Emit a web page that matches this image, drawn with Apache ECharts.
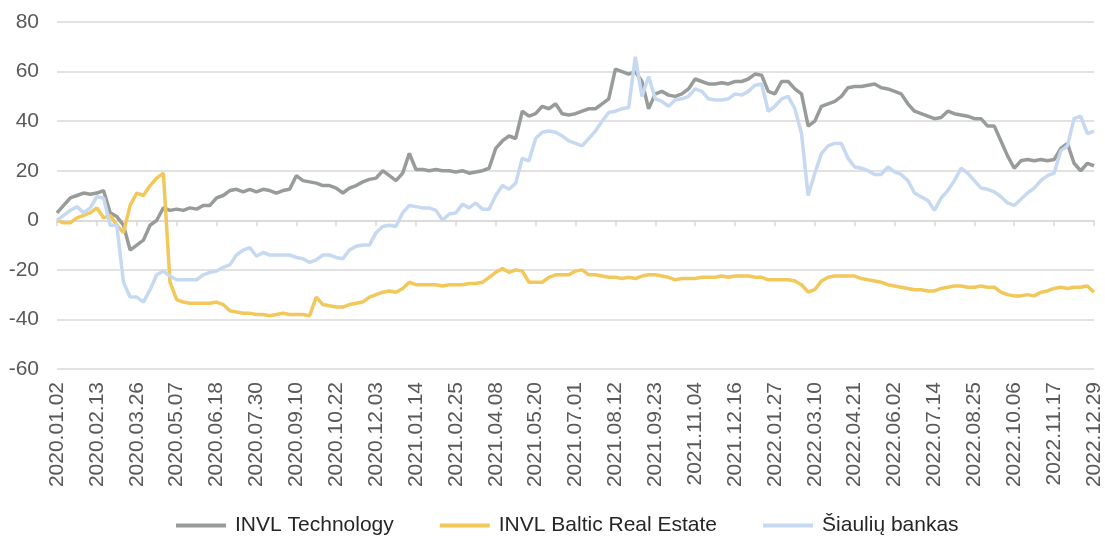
<!DOCTYPE html>
<html>
<head>
<meta charset="utf-8">
<script src="https://cdn.jsdelivr.net/npm/echarts@6/dist/echarts.min.js"></script>
<style>
  html, body { margin: 0; padding: 0; background: #fff; }
  #chart { width: 1105px; height: 536px; }
</style>
</head>
<body>
<div id="chart"></div>
<script>
// weekly readings (Thursdays), 2020.01.02 .. 2022.12.29
const invlTech = [
  3, 6, 9, 10, 11, 10.5, 11, 12, 3, 1.5,
  -2, -12, -10, -8, -2, 0, 5, 4, 4.5, 4,
  5, 4.5, 6, 6, 9, 10, 12, 12.5, 11.5, 12.5,
  11.5, 12.5, 12, 11, 12, 12.5, 18, 16, 15.5, 15,
  14, 14, 13, 11, 13, 14, 15.5, 16.5, 17, 20,
  18, 16, 19, 27, 20.5, 20.5, 20, 20.5, 20, 20,
  19.5, 20, 19, 19.5, 20, 21, 29, 32, 34, 33,
  44, 42, 43, 46, 45, 47, 43, 42.5, 43, 44,
  45, 45, 47, 49, 61, 60, 59, 60, 56, 45,
  51, 52, 50.5, 50, 51, 53, 57, 56, 55, 55,
  55.5, 55, 56, 56, 57, 59, 58.5, 52, 51, 56,
  56, 53, 51, 38, 40, 46, 47, 48, 50, 53.5,
  54, 54, 54.5, 55, 53.5, 53, 52, 51, 47, 44,
  43, 42, 41, 41.5, 44, 43, 42.5, 42, 41, 41,
  38, 38, 32, 26, 21, 24, 24.5, 24, 24.5, 24,
  24.5, 29, 31, 23, 20, 23, 22
]

const invlBre = [
  0, -1, -1, 1, 2, 3, 5, 1, 2, -2,
  -5, 6, 11, 10, 14, 17, 19, -25, -32, -33,
  -33.5, -33.5, -33.5, -33.5, -33, -34, -36.5, -37, -37.5, -37.5,
  -38, -38, -38.5, -38, -37.5, -38, -38, -38, -38.5, -31,
  -34, -34.5, -35, -35, -34, -33.5, -33, -31, -30, -29,
  -28.5, -29, -27.5, -25, -26, -26, -26, -26, -26.5, -26,
  -26, -26, -25.5, -25.5, -25, -23, -21, -19.5, -21, -20,
  -20.5, -25, -25, -25, -23, -22, -22, -22, -20.5, -20,
  -22, -22, -22.5, -23, -23, -23.5, -23, -23.5, -22.5, -22,
  -22, -22.5, -23, -24, -23.5, -23.5, -23.5, -23, -23, -23,
  -22.5, -23, -22.5, -22.5, -22.5, -23, -23, -24, -24, -24,
  -24, -24.5, -26, -29, -28, -24.5, -23, -22.5, -22.5, -22.5,
  -22.5, -23.5, -24, -24.5, -25, -26, -26.5, -27, -27.5, -28,
  -28, -28.5, -28.5, -27.5, -27, -26.5, -26.5, -27, -27, -26.5,
  -27, -27, -29, -30, -30.5, -30.5, -30, -30.5, -29, -28.5,
  -27.5, -27, -27.5, -27, -27, -26.5, -29
]

const siauliuBankas = [
  0, 2, 4, 5.5, 3, 5, 9.5, 9, -2, -2,
  -25, -31, -31, -33, -28, -22, -20.5, -22.5, -24, -24,
  -24, -24, -22, -21, -20.5, -19, -18, -14, -12, -11,
  -14.5, -13, -14, -14, -14, -14, -15, -15.5, -17, -16,
  -14, -14, -15, -15.5, -12, -10.5, -10, -10, -5, -2.5,
  -2, -2.5, 3, 6, 5.5, 5, 5, 4, 0, 2.5,
  3, 6.5, 5, 7, 4.5, 4.5, 10, 14, 12.5, 15,
  25, 24, 33, 35.5, 36, 35.5, 34, 32, 31, 30,
  33, 36, 40, 43.5, 44, 45, 45.5, 66, 50, 58,
  49, 48, 46, 48.5, 49, 50, 53, 52, 49, 48.5,
  48.5, 49, 51, 50.5, 52, 54.5, 55, 44, 46, 49,
  50, 45, 35, 10, 19, 27, 30, 31, 31, 25,
  21.5, 21, 20, 18.5, 18.5, 21.5, 19.5, 18.5, 16, 11,
  9.5, 8, 4, 9, 12, 16, 21, 19, 16, 13,
  12.5, 11.5, 9.5, 7, 6, 8.5, 11, 13, 16, 18,
  19, 28, 30, 41, 42, 35, 36
]

const seriesNames = ['INVL Technology', 'INVL Baltic Real Estate', 'Šiaulių bankas']

// category labels: every Thursday from 2020.01.02
const weeks = []
for (let i = 0; i < invlTech.length; i++) {
  const d = new Date(Date.UTC(2020, 0, 2 + i * 7))
  const mm = String(d.getUTCMonth() + 1).padStart(2, '0')
  const dd = String(d.getUTCDate()).padStart(2, '0')
  weeks.push(`${d.getUTCFullYear()}.${mm}.${dd}`)
}

const labelColor = '#595959'
const gridColor = '#d9d9d9'
const fontFamily = 'Liberation Sans, Arial, sans-serif'

const chart = echarts.init(document.getElementById('chart'))

const lineSeries = (name, data, color) => ({
  name,
  type: 'line',
  data,
  xAxisIndex: 0,
  showSymbol: false,
  symbol: 'none',
  lineStyle: { color, width: 3.5 },
  itemStyle: { color },
  animation: false
})

chart.setOption({
  backgroundColor: '#fff',
  textStyle: { fontFamily },
  grid: { left: 57, right: 11, top: 22, bottom: 167 },
  legend: {
    top: 510,
    left: 171,
    icon: 'rect',
    itemWidth: 50,
    itemHeight: 4,
    itemGap: 46,
    textStyle: { color: '#262626', fontSize: 21, fontFamily, padding: [0, 0, 0, 4] },
    data: seriesNames
  },
  xAxis: [
    {
      type: 'category',
      data: weeks,
      boundaryGap: false,
      axisLine: { onZero: true, lineStyle: { color: gridColor, width: 1.5 } },
      axisTick: { show: true, interval: 5, length: 6, lineStyle: { color: gridColor, width: 1.5 } },
      axisLabel: { show: false },
      splitLine: { show: false }
    },
    {
      type: 'category',
      data: weeks,
      position: 'bottom',
      boundaryGap: false,
      axisLine: { show: false, onZero: false },
      axisTick: { show: false },
      axisLabel: {
        interval: 5,
        rotate: 90,
        margin: 13,
        color: labelColor,
        fontSize: 21,
        fontFamily
      },
      splitLine: { show: false }
    }
  ],
  yAxis: {
    type: 'value',
    min: -60,
    max: 80,
    interval: 20,
    axisLine: { show: false },
    axisTick: { show: false },
    axisLabel: { color: labelColor, fontSize: 21, margin: 18, fontFamily },
    splitLine: { lineStyle: { color: gridColor, width: 1.5 } }
  },
  series: [
    lineSeries(seriesNames[0], invlTech, '#979c9b'),
    lineSeries(seriesNames[1], invlBre, '#f2c85b'),
    lineSeries(seriesNames[2], siauliuBankas, '#c6d9f1')
  ]
})
</script>
</body>
</html>
